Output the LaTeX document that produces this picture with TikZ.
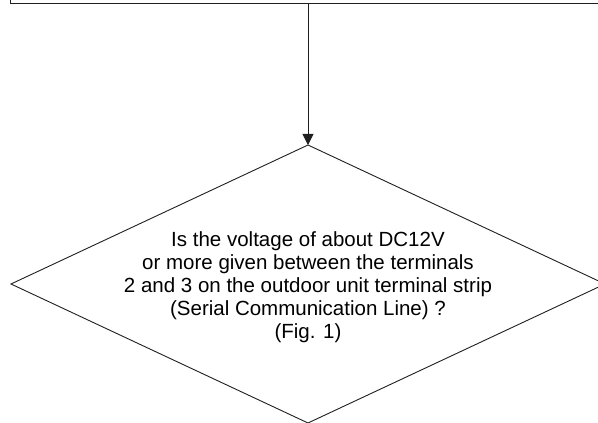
\documentclass[tikz,border=0pt]{standalone}
\usepackage{fontspec}
\setmainfont{Liberation Sans}
\usetikzlibrary{arrows.meta}
\begin{document}
\begin{tikzpicture}[x=1pt,y=1pt,
  line/.style={draw=black!88,line width=0.9pt},
  arr/.style={line,-{Triangle[length=11pt,width=11pt]}},
  qtext/.style={align=center,font=\fontsize{20.5}{23}\selectfont,inner sep=0pt}]
\useasboundingbox (0,0) rectangle (598,423);
\clip (0,0) rectangle (598,423);
\node[line,rectangle,minimum width=620pt,minimum height=40pt,anchor=south west,inner sep=0pt] (box) at (10,419) {};
\coordinate (dtop) at (308,278);
\coordinate (dleft) at (11,139);
\coordinate (dright) at (605,139);
\coordinate (dbot) at (308,0);
\draw[line] (dtop) -- (dright) -- (dbot) -- (dleft) -- cycle;
\node[qtext] (q) at (308,136) {Is the voltage of about DC12V\\or more given between the terminals\\2 and 3 on the outdoor unit terminal strip\\(Serial Communication Line) ?\\(Fig. 1)};
\draw[arr] (box.south -| dtop) -- (dtop);
\end{tikzpicture}
\end{document}
